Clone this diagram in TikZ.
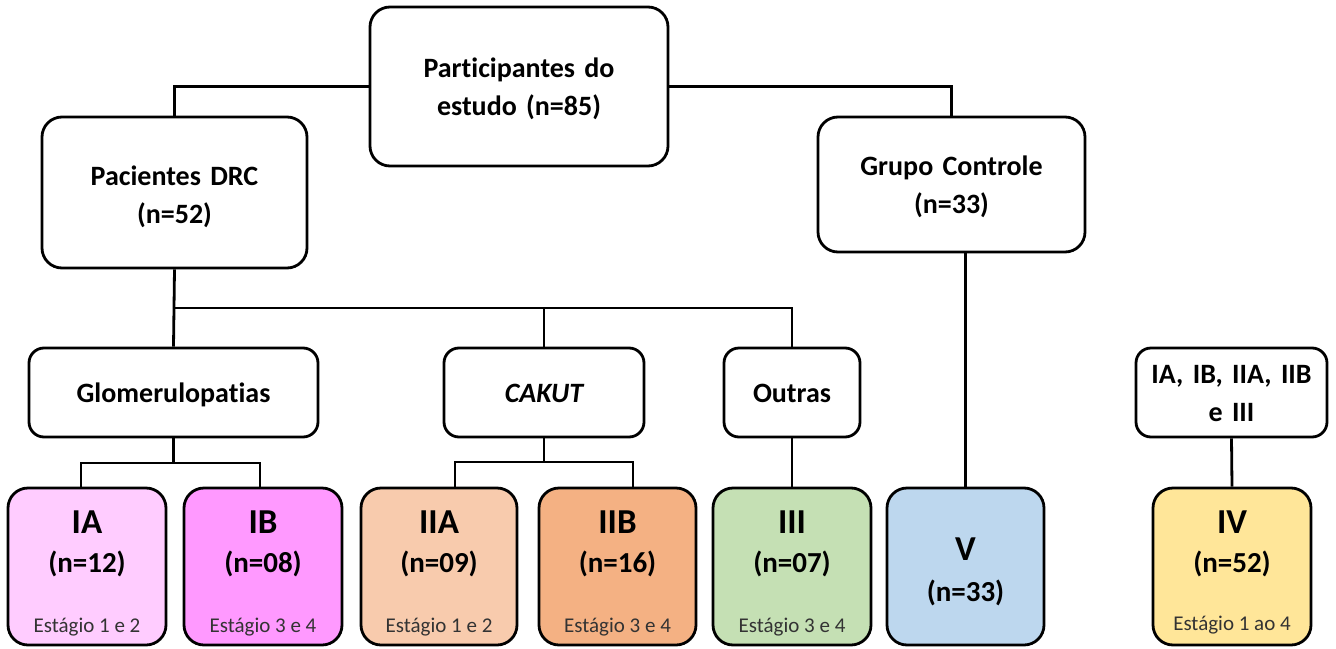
\documentclass[tikz,border=0pt]{standalone}
\usepackage{fontspec}
\setmainfont{Carlito}[Ligatures=NoCommon]
\begin{document}
\begin{tikzpicture}[x=1pt,y=-1pt,
  box/.style={draw=black, line width=2.8pt, rounded corners=#1, inner sep=0pt},
  box/.default=20pt,
  wh/.style 2 args={minimum width=#1, minimum height=#2},
  link/.style={line width=2.8pt},
  mid/.style={anchor=base, inner sep=0pt, text width=300pt, align=center,
              font=\fontsize{28}{38}\selectfont\bfseries},
  grp/.style={anchor=base, inner sep=0pt, font=\fontsize{35}{35}\selectfont\bfseries},
  cnt/.style={anchor=base, inner sep=0pt, font=\fontsize{29}{29}\selectfont\bfseries},
  stg/.style={anchor=base, inner sep=0pt, text=black!80, font=\fontsize{21}{21}\selectfont},
]
\definecolor{cIA}{HTML}{FFCCFF}
\definecolor{cIB}{HTML}{FF99FF}
\definecolor{cIIA}{HTML}{F8CBAD}
\definecolor{cIIB}{HTML}{F4B183}
\definecolor{cIII}{HTML}{C5E0B4}
\definecolor{cV}{HTML}{BDD7EE}
\definecolor{cIV}{HTML}{FFE699}

\useasboundingbox (0,0) rectangle (1336,648);

% upper levels
\node[box, wh={298pt}{159pt}] (part) at (519,86.5) {};
\node[box, wh={265pt}{151pt}] (drc) at (174.5,192.5) {};
\node[box, wh={267pt}{135pt}] (gc) at (951.5,184.5) {};
\node[box=15pt, wh={289pt}{89pt}] (glom) at (173.5,392.5) {};
\node[box=15pt, wh={200pt}{89pt}] (cakut) at (544,392.5) {};
\node[box=15pt, wh={136pt}{89pt}] (outras) at (792,392.5) {};
\node[box=15pt, wh={191pt}{89pt}] (combo) at (1231.5,392.5) {};

\node[mid] (partT) at (519,77) {Participantes do\\estudo (n=85)};
\node[mid] (drcT) at (174.5,185) {Pacientes DRC\\(n=52)};
\node[mid] (gcT) at (951.5,175) {Grupo Controle\\(n=33)};
\node[mid] (glomT) at (173.5,402) {Glomerulopatias};
\node[mid] (cakutT) at (544,402) {\itshape CAKUT};
\node[mid] (outrasT) at (792,402) {Outras};
\node[mid] (comboT) at (1231.5,383) {IA, IB, IIA, IIB\\e III};

% groups
\node[box, fill=cIA,  wh={158pt}{157pt}] (IA)  at (87,566.5) {};
\node[box, fill=cIB,  wh={158pt}{157pt}] (IB)  at (263,566.5) {};
\node[box, fill=cIIA, wh={156pt}{157pt}] (IIA) at (439,566.5) {};
\node[box, fill=cIIB, wh={157pt}{157pt}] (IIB) at (617.5,566.5) {};
\node[box, fill=cIII, wh={158pt}{157pt}] (III) at (792,566.5) {};
\node[box, fill=cV,   wh={157pt}{157pt}] (V)   at (965.5,566.5) {};
\node[box, fill=cIV,  wh={158pt}{157pt}] (IV)  at (1232,566.5) {};

\node[grp] (IAg)  at (87,533) {IA};
\node[cnt] (IAn)  at (87,572) {(n=12)};
\node[stg] (IAs)  at (87,632) {Estágio 1 e 2};
\node[grp] (IBg)  at (263,533) {IB};
\node[cnt] (IBn)  at (263,572) {(n=08)};
\node[stg] (IBs)  at (263,632) {Estágio 3 e 4};
\node[grp] (IIAg) at (439,533) {IIA};
\node[cnt] (IIAn) at (439,572) {(n=09)};
\node[stg] (IIAs) at (439,632) {Estágio 1 e 2};
\node[grp] (IIBg) at (617.5,533) {IIB};
\node[cnt] (IIBn) at (617.5,572) {(n=16)};
\node[stg] (IIBs) at (617.5,632) {Estágio 3 e 4};
\node[grp] (IIIg) at (792,533) {III};
\node[cnt] (IIIn) at (792,572) {(n=07)};
\node[stg] (IIIs) at (792,632) {Estágio 3 e 4};
\node[grp] (Vg)   at (965.5,560) {V};
\node[cnt] (Vn)   at (965.5,601) {(n=33)};
\node[grp] (IVg)  at (1232,533) {IV};
\node[cnt] (IVn)  at (1232,572) {(n=52)};
\node[stg] (IVs)  at (1232,630) {Estágio 1 ao 4};

% connectors
\coordinate (busA) at (0,308);
\coordinate (busG) at (0,463);
\coordinate (busC) at (0,462);

\draw[link] (part.west) -| (drc.north);
\draw[link] (part.east) -| (gc.north);
\draw[link] (drc.south) -- (glom.north);
\draw[link] (drc.south |- busA) -- (outras.north |- busA) -- (outras.north);
\draw[link] (cakut.north |- busA) -- (cakut.north);

\draw[link] (glom.south) -- (glom.south |- busG);
\draw[link] ([xshift=-6pt]IA.north) |- ([xshift=-3pt]IB.north |- busG) -- ([xshift=-3pt]IB.north);

\draw[link] (cakut.south) -- (cakut.south |- busC);
\draw[link] ([xshift=16pt]IIA.north) |- ([xshift=15.5pt]IIB.north |- busC) -- ([xshift=15.5pt]IIB.north);

\draw[link] (outras.south) -- (III.north);
\draw[link] (V.north |- gc.south) -- (V.north);
\draw[link] (combo.south) -- (IV.north);
\end{tikzpicture}
\end{document}
